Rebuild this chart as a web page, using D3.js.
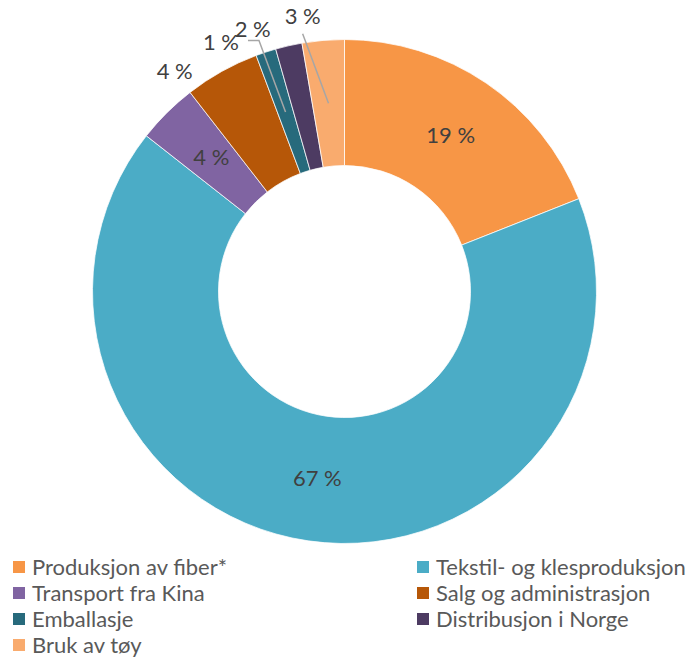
<!DOCTYPE html>
<html>
<head>
<meta charset="utf-8">
<script src="https://cdn.jsdelivr.net/npm/d3@7"></script>
<style>
  body { margin: 0; background: #fff; }
  svg { display: block; }
</style>
</head>
<body>
<svg width="692" height="660"></svg>
<script>
// categories in the order they are drawn, clockwise from 12 o'clock
const categories = ['Produksjon av fiber*', 'Tekstil- og klesproduksjon', 'Transport fra Kina',
  'Salg og administrasjon', 'Emballasje', 'Distribusjon i Norge', 'Bruk av tøy']
// shares (percent)
const values = [19.0, 66.6, 3.9, 4.8, 1.3, 1.7, 2.7]
// labels as printed on the chart
const shownLabels = ['19 %', '67 %', '4 %', '4 %', '1 %', '2 %', '3 %']
const colors = ['#F79646', '#4BACC6', '#8064A2', '#B65708', '#276A7C', '#4D3B62', '#F9AB6E']

const svg = d3.select('svg')
const cx = 344.5, cy = 291.5
const outerR = 252, innerR = 126
const labelR = 189
const outsideR = 278
// which labels sit outside the ring, and how far (deg) they are pulled from the slice middle
const outside = [false, false, false, true, true, true, true]
const nudge = [0, 0, 0, -8.5, -8.2, -6.5, -3.8]

const color = d3.scaleOrdinal().domain(categories).range(colors)

const pie = d3.pie().sort(null).value(d => d.value)
const data = categories.map((c, i) => ({ name: c, value: values[i], label: shownLabels[i] }))
const arcs = pie(data)

const arc = d3.arc().innerRadius(innerR).outerRadius(outerR)
const labelArc = d3.arc().innerRadius(labelR).outerRadius(labelR)

const g = svg.append('g').attr('transform', `translate(${cx},${cy})`)

//the slices
g.selectAll('path')
  .data(arcs)
  .enter().append('path')
  .attr('d', arc)
  .attr('fill', d => color(d.data.name))
  .attr('stroke', '#fff')
  .attr('stroke-width', 0.75)

//label positions
function labelPos(d, i) {
  if (!outside[i]) return labelArc.centroid(d)
  const a = (d.startAngle + d.endAngle) / 2 + nudge[i] * Math.PI / 180
  return [outsideR * Math.sin(a), -outsideR * Math.cos(a)]
}

//leader lines for emballasje and bruk av tøy
const leaders = [
  { i: 4, path: (p, c) => [[p[0] + 27, p[1] - 2], [p[0] + 38, p[1] - 2], c] },
  { i: 6, path: (p, c) => [[p[0], p[1] + 17], c] }
]
g.selectAll('.leader')
  .data(leaders)
  .enter().append('polyline')
  .attr('class', 'leader')
  .attr('points', l => {
    const d = arcs[l.i]
    return l.path(labelPos(d, l.i), labelArc.centroid(d)).map(p => p.join(',')).join(' ')
  })
  .attr('fill', 'none')
  .attr('stroke', '#A6A6A6')
  .attr('stroke-width', 1.5)

g.selectAll('.lbl')
  .data(arcs)
  .enter().append('text')
  .attr('class', 'lbl')
  .attr('transform', (d, i) => `translate(${labelPos(d, i)})`)
  .attr('text-anchor', 'middle')
  .attr('dy', '0.35em')
  .style('font-family', 'Lato, "Open Sans", sans-serif')
  .style('font-size', '22px')
  .attr('fill', '#404040')
  .text(d => d.data.label)

//legend, two columns
const legend = svg.selectAll('.legend')
  .data(categories)
  .enter().append('g')
  .attr('class', 'legend')
  .attr('transform', (d, i) => `translate(${i % 2 ? 417 : 13},${567 + Math.floor(i / 2) * 26})`)
legend.append('rect')
  .attr('x', 0).attr('y', -6)
  .attr('width', 12).attr('height', 12)
  .attr('fill', d => color(d))
legend.append('text')
  .attr('x', 19)
  .attr('dy', '0.35em')
  .style('font-family', 'Lato, "Open Sans", sans-serif')
  .style('font-size', '22px')
  .attr('fill', '#595959')
  .text(d => d)
</script>
</body>
</html>
